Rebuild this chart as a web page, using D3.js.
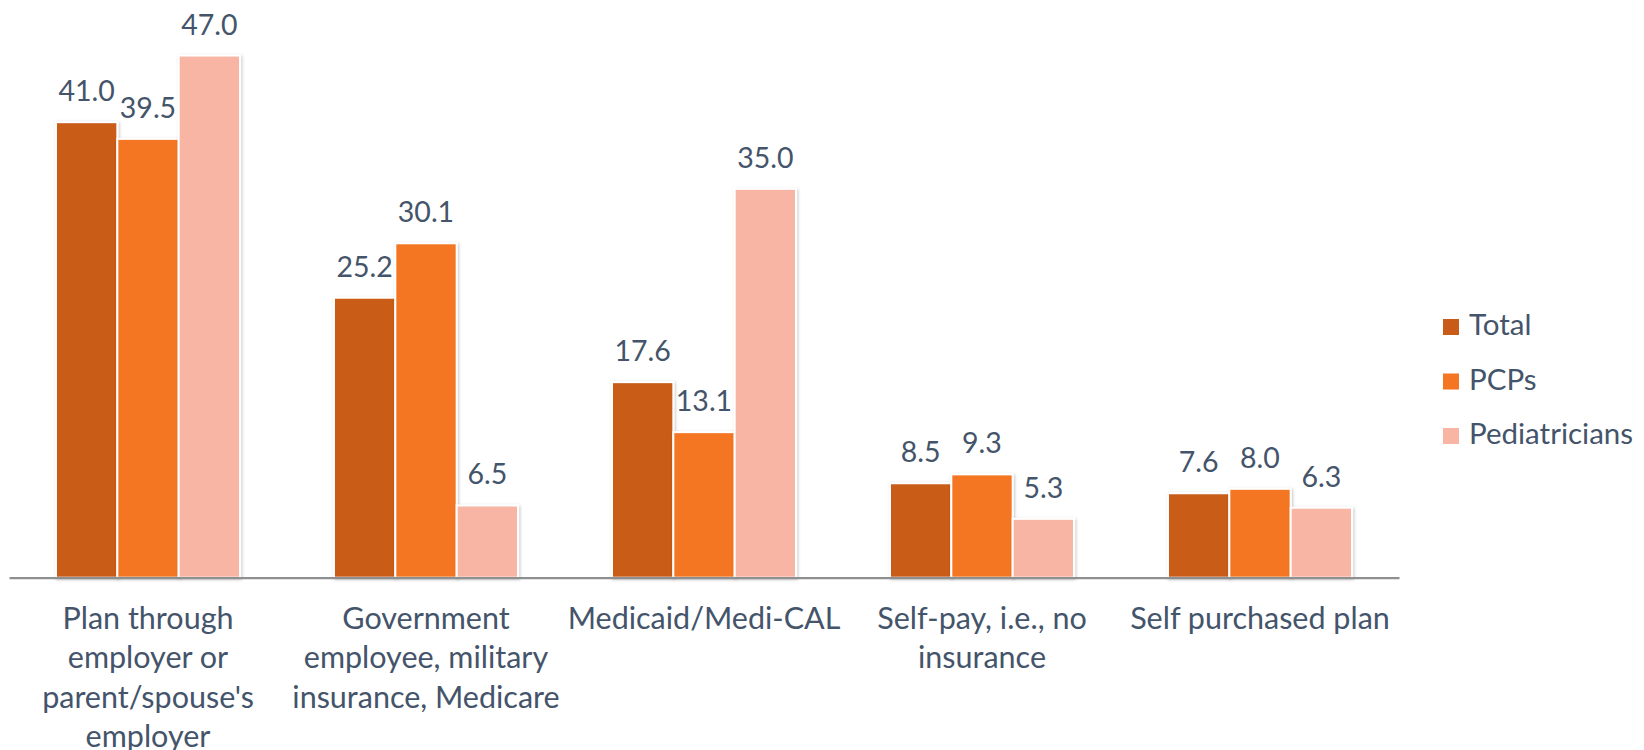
<html>
<head>
<meta charset="utf-8">
<style>
  body { margin: 0; background: #fff; font-family: Lato, "Open Sans", sans-serif; }
  svg { display: block; }
</style>
<script src="https://cdn.jsdelivr.net/npm/d3@7"></script>
</head>
<body>
<svg id="chart"></svg>
<script>
// data
const categories = [
  "Plan through\nemployer or\nparent/spouse's\nemployer",
  "Government\nemployee, military\ninsurance, Medicare",
  "Medicaid/Medi-CAL",
  "Self-pay, i.e., no\ninsurance",
  "Self purchased plan"
]
const seriesNames = ["Total", "PCPs", "Pediatricians"]
const totalValues = [41.0, 25.2, 17.6, 8.5, 7.6]
const pcpValues = [39.5, 30.1, 13.1, 9.3, 8.0]
const pediatricianValues = [47.0, 6.5, 35.0, 5.3, 6.3]
const seriesColors = ["#c95b19", "#f47522", "#f8b5a3"]

const allValues = [totalValues, pcpValues, pediatricianValues]
const textColor = "#44546a"

function getConfig() {
  let width = 1644
  let height = 750
  let plot = { left: 9, right: 1399, top: 0, bottom: 577.7 }
  let container = d3.select("#chart")
    .attr("width", width)
    .attr("height", height)
  return { width, height, plot, container }
}

function getScales(config) {
  let { plot } = config
  let xScale = d3.scaleBand()
    .domain(categories)
    .range([plot.left, plot.right])
    .paddingInner(0.338)
    .paddingOuter(0.169)
  let seriesScale = d3.scaleBand()
    .domain(seriesNames)
    .range([0, xScale.bandwidth()])
  let yScale = d3.scaleLinear()
    .domain([0, 52])
    .range([plot.bottom, plot.top])
  return { xScale, seriesScale, yScale }
}

function drawChart() {
  let config = getConfig()
  let scales = getScales(config)
  let { container } = config
  let { xScale, seriesScale, yScale } = scales

  // light shadow like the office chart
  let defs = container.append("defs")
  let filter = defs.append("filter").attr("id", "shadow")
    .attr("x", "-20%").attr("y", "-20%").attr("width", "140%").attr("height", "140%")
  filter.append("feDropShadow")
    .attr("dx", 1).attr("dy", 1).attr("stdDeviation", 1.5)
    .attr("flood-color", "#000").attr("flood-opacity", 0.25)

  // flatten into rows
  let rows = []
  categories.forEach((c, i) => {
    seriesNames.forEach((s, j) => {
      rows.push({ category: c, series: s, value: allValues[j][i], color: seriesColors[j] })
    })
  })

  // labels go under the bars (the bars clip them in the original)
  container.append("g").selectAll("text")
    .data(rows)
    .enter().append("text")
    .attr("x", d => xScale(d.category) + seriesScale(d.series) + seriesScale.bandwidth() / 2)
    .attr("y", d => yScale(d.value) - 21)
    .attr("text-anchor", "middle")
    .attr("font-size", 28.5)
    .attr("fill", textColor)
    .text(d => d.value.toFixed(1))

  container.append("g").selectAll("rect")
    .data(rows)
    .enter().append("rect")
    .attr("x", d => xScale(d.category) + seriesScale(d.series))
    .attr("y", d => yScale(d.value))
    .attr("width", seriesScale.bandwidth())
    .attr("height", d => yScale(0) - yScale(d.value))
    .attr("fill", d => d.color)
    .attr("stroke", "#fff")
    .attr("stroke-width", 2)
    .attr("filter", "url(#shadow)")

  // x axis
  let axisX = d3.axisBottom(xScale).tickSize(0).tickSizeOuter(0)
  let axisG = container.append("g")
    .attr("transform", `translate(0,${config.plot.bottom})`)
    .call(axisX)
  axisG.select(".domain").attr("stroke", "#8e8f91").attr("stroke-width", 2.2)
  axisG.selectAll(".tick text").each(function(d) {
    let t = d3.select(this)
    t.text(null)
      .attr("y", 0).attr("dy", null)
      .attr("font-size", 30.5)
      .attr("font-family", "Lato, 'Open Sans', sans-serif")
      .attr("fill", textColor)
    d.split("\n").forEach((line, k) => {
      t.append("tspan")
        .attr("x", 0)
        .attr("y", 51 + k * 39.5)
        .text(line)
    })
  })

  // legend
  let legend = container.append("g")
    .attr("transform", "translate(1443,319)")
  let items = legend.selectAll("g")
    .data(seriesNames)
    .enter().append("g")
    .attr("transform", (d, i) => `translate(0,${i * 54.5})`)
  items.append("rect")
    .attr("width", 16).attr("height", 16)
    .attr("fill", (d, i) => seriesColors[i])
  items.append("text")
    .attr("x", 26).attr("y", 16)
    .attr("font-size", 29.5)
    .attr("fill", textColor)
    .text(d => d)
}

drawChart()
</script>
</body>
</html>
